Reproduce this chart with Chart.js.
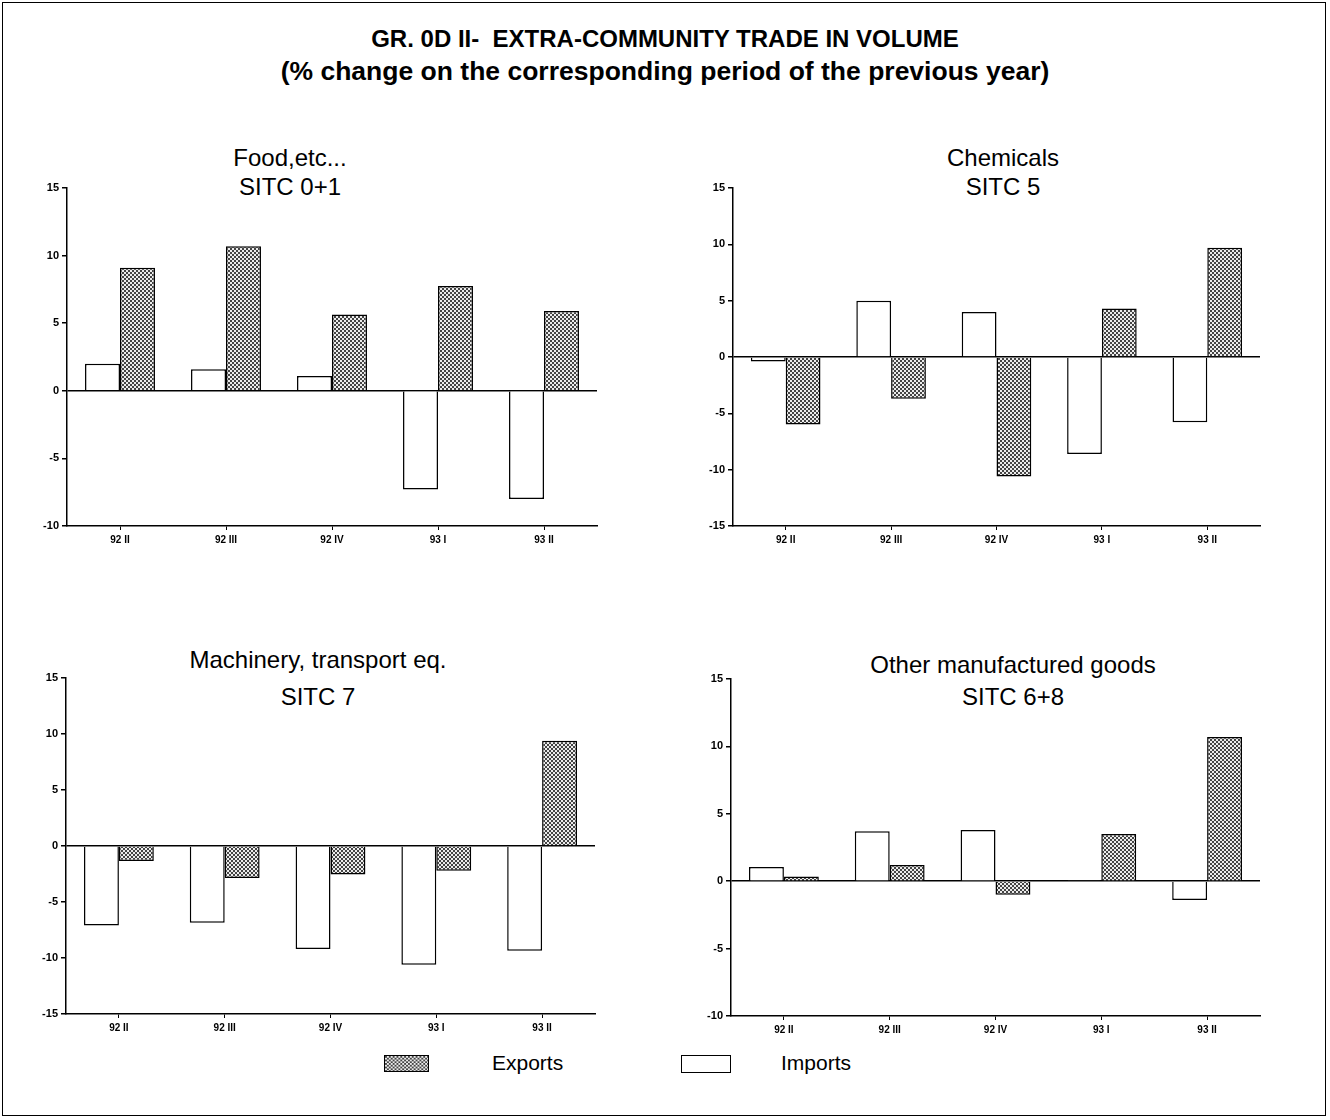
<!DOCTYPE html>
<html>
<head>
<meta charset="utf-8">
<script src="https://cdn.jsdelivr.net/npm/chart.js@4.4.1/dist/chart.umd.min.js"></script>
<style>
  html, body { margin: 0; padding: 0; background: #fff; }
  #page { position: relative; width: 1330px; height: 1120px; overflow: hidden; font-family: "Liberation Sans", Arial, sans-serif; color: #000; }
  #frame { position: absolute; left: 2px; top: 2px; width: 1324px; height: 1114px; border: 1.5px solid #000; box-sizing: border-box; }
  .title { position: absolute; left: 0; width: 1330px; text-align: center; font-weight: bold; white-space: nowrap; }
  .ptitle { position: absolute; text-align: center; font-size: 24px; line-height: 29px; white-space: nowrap; }
  canvas.panel { position: absolute; }
  .swatch { position: absolute; border: 1.5px solid #000; box-sizing: border-box; }
  .ltext { position: absolute; font-size: 21px; line-height: 24px; }
</style>
</head>
<body>
<div id="page">
  <div id="frame"></div>
  <div class="title" style="top:25px;font-size:24px;line-height:28px;">GR. 0D II-&nbsp; EXTRA-COMMUNITY TRADE IN VOLUME</div>
  <div class="title" style="top:56px;font-size:26.5px;line-height:31px;">(% change on the corresponding period of the previous year)</div>

  <div class="ptitle" style="left:90px;width:400px;top:143px;">Food,etc...<br>SITC 0+1</div>
  <div class="ptitle" style="left:803px;width:400px;top:143px;">Chemicals<br>SITC 5</div>
  <div class="ptitle" style="left:118px;width:400px;top:641px;line-height:37px;">Machinery, transport eq.<br>SITC 7</div>
  <div class="ptitle" style="left:813px;width:400px;top:649px;line-height:32px;">Other manufactured goods<br>SITC 6+8</div>

  <canvas class="panel" id="food"></canvas>
  <canvas class="panel" id="chem"></canvas>
  <canvas class="panel" id="mach"></canvas>
  <canvas class="panel" id="other"></canvas>

  <canvas class="swatch" id="swExp" width="45" height="17" style="left:384px;top:1055px;width:45px;height:17px;"></canvas>
  <div class="ltext" style="left:492px;top:1051px;">Exports</div>
  <div class="swatch" style="left:681px;top:1055px;width:50px;height:18px;background:#fff;"></div>
  <div class="ltext" style="left:781px;top:1051px;">Imports</div>
</div>

<script>
// ---- data (% change on the corresponding period of the previous year) ----
const quarters = ["92 II", "92 III", "92 IV", "93 I", "93 II"];

const foodImports = [2.0, 1.6, 1.1, -7.3, -8.0];
const foodExports = [9.1, 10.7, 5.65, 7.75, 5.9];

const chemImports = [-0.4, 5.0, 4.0, -8.6, -5.8];
const chemExports = [-6.0, -3.7, -10.6, 4.3, 9.7];

const machImports = [-7.1, -6.85, -9.2, -10.6, -9.35];
const machExports = [-1.35, -2.85, -2.55, -2.2, 9.4];

const otherImports = [1.05, 3.7, 3.8, 0.07, -1.4];
const otherExports = [0.35, 1.2, -1.0, 3.5, 10.7];

// y-axis range of each panel (ticks every 5)
const foodRange = [-10, 15];
const chemRange = [-15, 15];
const machRange = [-15, 15];
const otherRange = [-10, 15];

// ---- dotted fill used for the export bars ----
function makePattern() {
  const c = document.createElement("canvas");
  c.width = 4;
  c.height = 4;
  const g = c.getContext("2d");
  g.fillStyle = "#ececec";
  g.fillRect(0, 0, 4, 4);
  g.fillStyle = "#444";
  g.fillRect(0, 0, 2, 2);
  g.fillRect(2, 2, 2, 2);
  return c;
}
const tile = makePattern();

// legend swatch
(function () {
  const g = document.getElementById("swExp").getContext("2d");
  g.fillStyle = g.createPattern(tile, "repeat");
  g.fillRect(0, 0, 45, 17);
})();

const AXIS_W = 45, PAD_TOP = 12, PAD_RIGHT = 8, XAXIS_H = 30;

// Place a canvas so that its plot area lands on the given box
function drawPanel(id, box, imports, exports, range) {
  const cv = document.getElementById(id);
  const w = AXIS_W + box.w + PAD_RIGHT;
  const h = PAD_TOP + (box.bottom - box.top) + XAXIS_H;
  cv.width = w;
  cv.height = h;
  cv.style.left = (box.x - AXIS_W) + "px";
  cv.style.top = (box.top - PAD_TOP) + "px";
  cv.style.width = w + "px";
  cv.style.height = h + "px";

  const ctx = cv.getContext("2d");
  const pattern = ctx.createPattern(tile, "repeat");

  return new Chart(ctx, {
    type: "bar",
    data: {
      labels: quarters,
      datasets: [
        {
          label: "Imports",
          data: imports,
          backgroundColor: "#fff",
          borderColor: "#000",
          borderWidth: 1.5,
        },
        {
          label: "Exports",
          data: exports,
          backgroundColor: pattern,
          borderColor: "#000",
          borderWidth: 1.5,
        },
      ],
    },
    options: {
      responsive: false,
      animation: false,
      devicePixelRatio: 1,
      layout: { padding: { top: PAD_TOP, right: PAD_RIGHT, left: 0, bottom: 0 } },
      datasets: { bar: { categoryPercentage: 0.66, barPercentage: 1.0 } },
      plugins: { legend: { display: false }, tooltip: { enabled: false } },
      scales: {
        x: {
          offset: true,
          afterFit: (s) => { s.height = XAXIS_H; },
          border: { display: true, color: "#000", width: 1.5 },
          grid: { offset: false, drawOnChartArea: false, color: "#000", tickLength: 4 },
          ticks: { color: "#000", padding: 4, maxRotation: 0, font: { family: "Liberation Sans", size: 10, weight: "bold" } },
        },
        y: {
          min: range[0],
          max: range[1],
          afterFit: (s) => { s.width = AXIS_W; },
          border: { display: true, color: "#000", width: 1.5 },
          grid: {
            drawOnChartArea: true,
            color: (c) => (c.tick && c.tick.value === 0 ? "#000" : "rgba(0,0,0,0)"),
            lineWidth: 1.5,
            tickColor: "#000",
            tickLength: 5,
          },
          ticks: { stepSize: 5, color: "#000", padding: 3, font: { family: "Liberation Sans", size: 11, weight: "bold" } },
        },
      },
    },
  });
}

drawPanel("food", { x: 67, top: 188, bottom: 526, w: 530 }, foodImports, foodExports, foodRange);
drawPanel("chem", { x: 733, top: 188, bottom: 526, w: 527 }, chemImports, chemExports, chemRange);
drawPanel("mach", { x: 66, top: 678, bottom: 1014, w: 529 }, machImports, machExports, machRange);
drawPanel("other", { x: 731, top: 679, bottom: 1016, w: 529 }, otherImports, otherExports, otherRange);
</script>
</body>
</html>
